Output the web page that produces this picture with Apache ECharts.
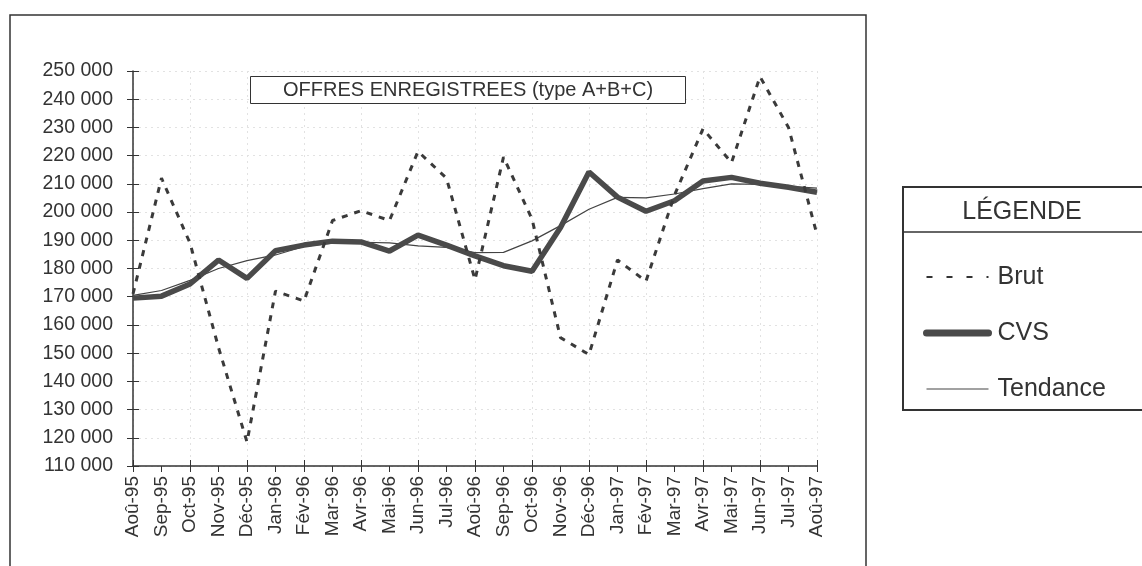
<!DOCTYPE html>
<html>
<head>
<meta charset="utf-8">
<script src="https://cdn.jsdelivr.net/npm/echarts@6/dist/echarts.min.js"></script>
<style>
html, body { margin: 0; padding: 0; background: #fff; }
#chart { width: 1142px; height: 566px; }
</style>
</head>
<body>
<div id="chart"></div>
<script>
// mois (axe X)
const mois = ['Aoû-95', 'Sep-95', 'Oct-95', 'Nov-95', 'Déc-95', 'Jan-96', 'Fév-96', 'Mar-96', 'Avr-96',
	'Mai-96', 'Jun-96', 'Jul-96', 'Aoû-96', 'Sep-96', 'Oct-96', 'Nov-96', 'Déc-96', 'Jan-97', 'Fév-97',
	'Mar-97', 'Avr-97', 'Mai-97', 'Jun-97', 'Jul-97', 'Aoû-97'];
// séries
const brut = [171000, 212000, 189000, 152000, 118500, 172000, 168500, 197000, 200500, 197000, 221500, 212000,
	176000, 219500, 197500, 155500, 149500, 183000, 175500, 206000, 229500, 217500, 248000, 230000, 192000];
const cvs = [169500, 170200, 174500, 183000, 176500, 186300, 188300, 189700, 189400, 186200, 191800, 188300,
	184500, 181000, 179000, 194500, 214200, 205300, 200300, 204000, 211000, 212300, 210200, 208800, 207000];
const tendance = [170500, 172200, 175800, 180000, 182800, 184800, 187800, 189000, 189300, 189100, 188000, 187500,
	185600, 185700, 189800, 195200, 201000, 205200, 205000, 206400, 208300, 210000, 209800, 209100, 208500];

const INK = '#333';
const FONT = 'Liberation Sans';

// 250000 -> "250 000"
const fmt = v => String(v).replace(/\B(?=(\d{3})+(?!\d))/g, ' ');

let myChart = echarts.init(document.getElementById('chart'));
myChart.setOption({
	backgroundColor: '#fff',
	animation: false,
	textStyle: { fontFamily: FONT, color: INK },
	title: {
		text: 'OFFRES ENREGISTREES (type A+B+C)',
		left: 250,
		top: 76,
		padding: [4, 33, 4, 33],
		borderColor: INK,
		borderWidth: 1,
		backgroundColor: '#fff',
		textStyle: { fontSize: 20, fontWeight: 'normal', color: INK, fontFamily: FONT },
	},
	legend: {
		orient: 'vertical',
		left: 918,
		top: 258,
		itemWidth: 62,
		itemHeight: 14,
		itemGap: 28,
		itemStyle: { opacity: 0 },
		textStyle: { fontSize: 25, lineHeight: 28, color: INK, padding: [0, 0, 0, 4] },
		data: [
			{ name: 'Brut', lineStyle: { width: 2, type: [6, 14], color: '#333' } },
			{ name: 'CVS', lineStyle: { width: 7, color: '#4a4a4a', cap: 'round' } },
			{ name: 'Tendance', lineStyle: { width: 1.2, color: '#444' } },
		],
	},
	grid: { left: 133, right: 325, top: 71, bottom: 100 },
	xAxis: [
		{
			type: 'category',
			data: mois,
			boundaryGap: false,
			axisLine: { lineStyle: { color: INK, width: 1.5 } },
			axisTick: { length: 6, lineStyle: { color: INK } },
			axisLabel: { rotate: 90, fontSize: 19, color: INK, margin: 10 },
			splitLine: { show: true, interval: 1, lineStyle: { color: '#e2e2e2', type: [2, 4] } },
		},
		{
			// ticks vers l'intérieur (croix)
			type: 'category',
			data: mois,
			position: 'bottom',
			boundaryGap: false,
			axisLine: { show: false },
			axisTick: { inside: true, length: 6, lineStyle: { color: INK } },
			axisLabel: { show: false },
		},
	],
	yAxis: [
		{
			type: 'value',
			min: 110000,
			max: 250000,
			interval: 10000,
			axisLine: { show: true, lineStyle: { color: INK, width: 1.5 } },
			axisTick: { show: true, length: 6, lineStyle: { color: INK } },
			axisLabel: { fontSize: 19.5, color: INK, margin: 20, formatter: fmt },
			splitLine: { show: true, lineStyle: { color: '#e2e2e2', type: [2, 4] } },
		},
		{
			type: 'value',
			position: 'left',
			min: 110000,
			max: 250000,
			interval: 10000,
			axisLine: { show: false },
			axisTick: { show: true, inside: true, length: 6, lineStyle: { color: INK } },
			axisLabel: { show: false },
			splitLine: { show: false },
		},
	],
	series: [
		{
			name: 'Tendance',
			type: 'line',
			data: tendance,
			showSymbol: false,
			symbol: 'none',
			lineStyle: { color: '#444', width: 1.2 },
			itemStyle: { color: '#444' },
			z: 3,
		},
		{
			name: 'CVS',
			type: 'line',
			data: cvs,
			showSymbol: false,
			symbol: 'none',
			lineStyle: { color: '#4a4a4a', width: 5.5 },
			itemStyle: { color: '#4a4a4a' },
			z: 4,
		},
		{
			name: 'Brut',
			type: 'line',
			data: brut,
			showSymbol: false,
			symbol: 'none',
			lineStyle: { color: '#3a3a3a', width: 3, type: [6, 7] },
			itemStyle: { color: '#3a3a3a' },
			z: 5,
		},
	],
	graphic: [
		// cadre extérieur
		{
			type: 'rect',
			shape: { x: 10, y: 15, width: 856, height: 570 },
			style: { fill: 'none', stroke: INK, lineWidth: 1.5 },
			silent: true,
			z: -10,
		},
		// cadre de la légende
		{
			type: 'rect',
			shape: { x: 903, y: 187, width: 260, height: 223 },
			style: { fill: 'none', stroke: INK, lineWidth: 2 },
			silent: true,
		},
		{
			type: 'line',
			shape: { x1: 903, y1: 232, x2: 1142, y2: 232 },
			style: { stroke: INK, lineWidth: 1.5 },
			silent: true,
		},
		{
			type: 'text',
			x: 1022,
			y: 212,
			style: {
				text: 'LÉGENDE',
				fontSize: 25,
				fontFamily: FONT,
				fill: INK,
				align: 'center',
				verticalAlign: 'middle',
			},
			silent: true,
		},
	],
});
</script>
</body>
</html>
